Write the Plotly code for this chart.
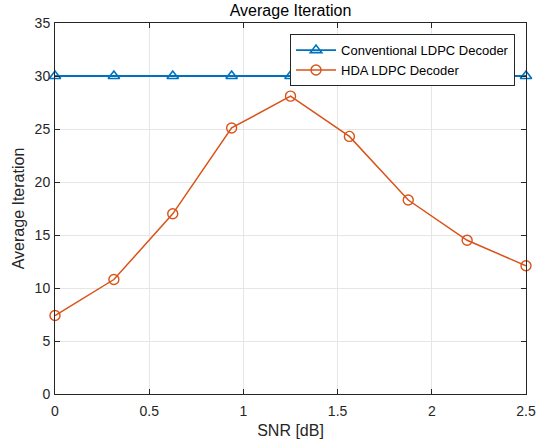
import plotly.graph_objects as go

snr = [0, 0.3125, 0.625, 0.9375, 1.25, 1.5625, 1.875, 2.1875, 2.5]
conventional = [30, 30, 30, 30, 30, 30, 30, 30, 30]
hda = [7.4, 10.8, 17.0, 25.1, 28.1, 24.3, 18.3, 14.5, 12.1]
x_ticks = [0, 0.5, 1, 1.5, 2, 2.5]
x_tick_text = ["0", "0.5", "1", "1.5", "2", "2.5"]
y_ticks = [0, 5, 10, 15, 20, 25, 30, 35]

FONT = "Liberation Sans, Arial"

fig = go.Figure()
fig.add_trace(go.Scatter(
    x=snr, y=conventional, mode="lines+markers", name="Conventional LDPC Decoder",
    line=dict(color="#0072BD", width=1.8),
    marker=dict(symbol="triangle-up-open", size=10, color="#0072BD", line=dict(width=1.6)),
    cliponaxis=False))
fig.add_trace(go.Scatter(
    x=snr, y=hda, mode="lines+markers", name="HDA LDPC Decoder",
    line=dict(color="#D95319", width=1.5),
    marker=dict(symbol="circle-open", size=10, color="#D95319", line=dict(width=1.4)),
    cliponaxis=False))

axis_common = dict(
    showline=True, linecolor="#262626", linewidth=1, mirror="ticks",
    ticks="inside", ticklen=5, tickcolor="#262626",
    showgrid=True, gridcolor="#E6E6E6", gridwidth=1, zeroline=False,
    automargin=False,
    tickfont=dict(family=FONT, size=14, color="#262626"),
)

fig.update_layout(
    width=543, height=445,
    margin=dict(l=55, r=17, t=23, b=51),
    paper_bgcolor="white", plot_bgcolor="white",
    title=dict(text="Average Iteration", x=0.5, xref="paper", y=1 - 10/445, yref="container",
               yanchor="middle", xanchor="center", automargin=False,
               font=dict(family=FONT, size=16, color="black")),
    xaxis=dict(range=[0, 2.5], tickvals=x_ticks, ticktext=x_tick_text, ticklabelstandoff=4,
               title=dict(text="SNR [dB]", standoff=7,
                          font=dict(family=FONT, size=16, color="#262626")),
               **axis_common),
    yaxis=dict(range=[0, 35], tickvals=y_ticks, ticklabelstandoff=1,
               title=dict(text="Average Iteration", standoff=6,
                          font=dict(family=FONT, size=16, color="#262626")),
               **axis_common),
    legend=dict(x=0.499, y=0.970, xanchor="left", yanchor="top",
                bgcolor="white", bordercolor="#262626", borderwidth=1,
                font=dict(family=FONT, size=13, color="black"),
                itemwidth=40, tracegroupgap=0),
    showlegend=True,
)

fig.write_html("out.html", config={"displayModeBar": False},
               post_script="document.body.style.margin='0';")
